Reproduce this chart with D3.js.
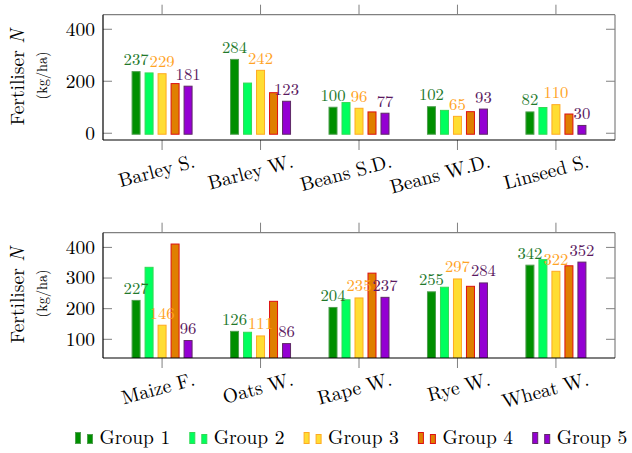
<!DOCTYPE html>
<html>
<head>
<meta charset="utf-8">
<script src="https://cdn.jsdelivr.net/npm/d3@7"></script>
<style>
  body { margin: 0; background: #fff; }
</style>
</head>
<body>
<div id="chart"></div>
<script>
// data
var groups = ["Group 1", "Group 2", "Group 3", "Group 4", "Group 5"];

var cropsTop = ["Barley S.", "Barley W.", "Beans S.D.", "Beans W.D.", "Linseed S."];
var valuesTop = [
  [237, 284, 100, 102, 82],   // Group 1
  [232, 193, 118, 88, 99],    // Group 2
  [229, 242, 96, 65, 110],    // Group 3
  [191, 156, 82, 83, 74],     // Group 4
  [181, 123, 77, 93, 30]      // Group 5
];
var ticksTop = [0, 200, 400];

var cropsBottom = ["Maize F.", "Oats W.", "Rape W.", "Rye W.", "Wheat W."];
var valuesBottom = [
  [227, 126, 204, 255, 342],
  [335, 123, 229, 270, 360],
  [146, 111, 235, 297, 322],
  [411, 224, 316, 273, 340],
  [96, 86, 237, 284, 352]
];
var ticksBottom = [100, 200, 300, 400];

// only these groups get their numbers printed
var labelledGroups = [0, 2, 4];

var fills = ["#008f00", "#00ff5e", "#ffdd33", "#df7f00", "#9400d3"];
var strokes = ["#4f9f4f", "#33d955", "#ffaa22", "#dd1111", "#5f2a66"];
var labelColors = ["#22782a", "#ffa324", "#5a1860"];

var width = 632, height = 453;
var font = "'Latin Modern Roman', 'CMU Serif', 'Liberation Serif', serif";

var svg = d3.select("#chart").append("svg")
    .attr("width", width)
    .attr("height", height)
    .style("font-family", font);

function drawPanel(crops, values, ticks, box, yDomain) {
  var x = d3.scalePoint()
      .domain(crops)
      .range([box.left, box.right])
      .padding(0.6);

  var xg = d3.scaleBand()
      .domain(d3.range(groups.length))
      .range([-32.5, 32.5])
      .paddingInner(4 / 13)
      .paddingOuter(2 / 13);

  var y = d3.scaleLinear()
      .domain(yDomain)
      .range([box.bottom, box.top]);

  var g = svg.append("g");

  var clipId = "clip" + Math.round(box.top);
  g.append("clipPath").attr("id", clipId)
    .append("rect")
      .attr("x", box.left).attr("y", box.top)
      .attr("width", box.right - box.left)
      .attr("height", box.bottom - box.top);

  // y ticks, inside on both sides
  var yTicks = g.append("g");
  ticks.forEach(function(t) {
    yTicks.append("line")
        .attr("x1", box.left).attr("x2", box.left + 9)
        .attr("y1", y(t)).attr("y2", y(t))
        .attr("stroke", "#808080");
    yTicks.append("line")
        .attr("x1", box.right - 9).attr("x2", box.right)
        .attr("y1", y(t)).attr("y2", y(t))
        .attr("stroke", "#808080");
    yTicks.append("text")
        .attr("x", box.left - 8)
        .attr("y", y(t))
        .attr("dy", "0.33em")
        .attr("text-anchor", "end")
        .attr("font-size", 19.5)
        .text(t);
  });

  // x ticks, outside top and bottom
  crops.forEach(function(c) {
    g.append("line")
        .attr("x1", x(c)).attr("x2", x(c))
        .attr("y1", box.top - 10).attr("y2", box.top)
        .attr("stroke", "#808080");
    g.append("line")
        .attr("x1", x(c)).attr("x2", x(c))
        .attr("y1", box.bottom).attr("y2", box.bottom + 10)
        .attr("stroke", "#808080");
    g.append("text")
        .attr("text-anchor", "end")
        .attr("font-size", 19.5)
        .attr("transform", "translate(" + (x(c) + 34) + "," + (box.bottom + 27) + ") rotate(-15)")
        .text(c);
  });

  // bars
  var bars = g.append("g").attr("clip-path", "url(#" + clipId + ")");
  values.forEach(function(series, gi) {
    bars.selectAll(".bar" + gi)
        .data(series)
      .enter().append("rect")
        .attr("x", function(d, i) { return x(crops[i]) + xg(gi) + 0.5; })
        .attr("width", xg.bandwidth() - 1)
        .attr("y", function(d) { return y(d); })
        .attr("height", function(d) { return y(Math.max(0, yDomain[0])) - y(d) + 1; })
        .attr("fill", fills[gi])
        .attr("stroke", strokes[gi])
        .attr("stroke-width", 1);
  });

  // value labels
  labelledGroups.forEach(function(gi, k) {
    values[gi].forEach(function(d, i) {
      g.append("text")
          .attr("x", x(crops[i]) + xg(gi) + xg.bandwidth() / 2)
          .attr("y", y(d) - 6.5)
          .attr("text-anchor", "middle")
          .attr("font-size", 16.7)
          .attr("fill", labelColors[k])
          .text(d);
    });
  });

  // frame: top and right grey, left and bottom black
  g.append("line")
      .attr("x1", box.left).attr("x2", box.right)
      .attr("y1", box.top).attr("y2", box.top)
      .attr("stroke", "#808080").attr("stroke-width", 1.2);
  g.append("line")
      .attr("x1", box.right).attr("x2", box.right)
      .attr("y1", box.top).attr("y2", box.bottom)
      .attr("stroke", "#808080").attr("stroke-width", 1.2);
  g.append("line")
      .attr("x1", box.left).attr("x2", box.left)
      .attr("y1", box.top).attr("y2", box.bottom)
      .attr("stroke", "#000").attr("stroke-width", 1.2);
  g.append("line")
      .attr("x1", box.left).attr("x2", box.right)
      .attr("y1", box.bottom).attr("y2", box.bottom)
      .attr("stroke", "#000").attr("stroke-width", 1.2);

  // y label
  var cy = (box.top + box.bottom) / 2;
  var lab = g.append("text")
      .attr("transform", "translate(24," + cy + ") rotate(-90)")
      .attr("text-anchor", "middle")
      .attr("font-size", 19.5);
  lab.append("tspan").text("Fertiliser ");
  lab.append("tspan").attr("font-style", "italic").text("N");
  g.append("text")
      .attr("transform", "translate(47," + (cy - 2) + ") rotate(-90)")
      .attr("text-anchor", "middle")
      .attr("font-size", 14.3)
      .text("(kg/ha)");
}

drawPanel(cropsTop, valuesTop, ticksTop,
  {left: 103, right: 615, top: 14.7, bottom: 140}, [-26, 456]);
drawPanel(cropsBottom, valuesBottom, ticksBottom,
  {left: 103, right: 615, top: 232.7, bottom: 358}, [39, 448]);

// legend
var legendX = d3.scaleLinear().domain([0, 1]).range([75, 189.3]);
groups.forEach(function(name, i) {
  var lx = legendX(i);
  svg.append("rect")
      .attr("x", lx + 0.5).attr("y", 432.5)
      .attr("width", 5).attr("height", 11)
      .attr("fill", fills[i]).attr("stroke", strokes[i]);
  svg.append("rect")
      .attr("x", lx + 12.5).attr("y", 434.5)
      .attr("width", 5).attr("height", 9)
      .attr("fill", fills[i]).attr("stroke", strokes[i]);
  svg.append("text")
      .attr("x", lx + 24.5)
      .attr("y", 444)
      .attr("font-size", 19.5)
      .text(name);
});
</script>
</body>
</html>
